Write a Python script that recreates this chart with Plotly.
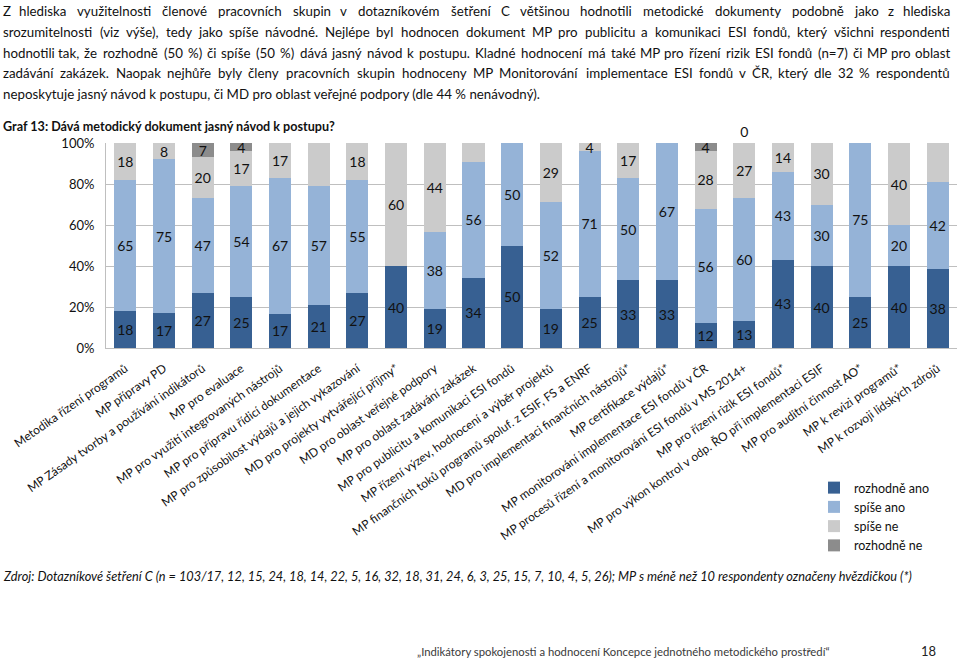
import unicodedata
import plotly.graph_objects as go

categories = [
    "Metodika řízení programů",
    "MP přípravy PD",
    "MP Zásady tvorby a používání indikátorů",
    "MP pro evaluace",
    "MP pro využití integrovaných nástrojů",
    "MP pro přípravu řídicí dokumentace",
    "MP pro způsobilost výdajů a jejich vykazování",
    "MD pro projekty vytvářející příjmy*",
    "MD pro oblast veřejné podpory",
    "MP pro oblast zadávání zakázek",
    "MP pro publicitu a komunikaci ESI fondů",
    "MP řízení výzev, hodnocení a výběr projektů",
    "MP finančních toků programů spoluf. z ESIF, FS a ENRF",
    "MD pro implementaci finančních nástrojů*",
    "MP certifikace výdajů*",
    "MP monitorování implementace ESI fondů v ČR",
    "MP procesů řízení a monitorování ESI fondů v MS 2014+",
    "MP pro řízení rizik ESI fondů*",
    "MP pro výkon kontrol v odp. ŘO při implementaci ESIF",
    "MP pro auditní činnost AO*",
    "MP k revizi programů*",
    "MP k rozvoji lidských zdrojů",
]

rozhodne_ano = [18, 17, 27, 25, 17, 21, 27, 40, 19, 34, 50, 19, 25, 33, 33, 12, 13, 43, 40, 25, 40, 38]
spise_ano = [65, 75, 47, 54, 67, 57, 55, None, 38, 56, 50, 52, 71, 50, 67, 56, 60, 43, 30, 75, 20, 42]
spise_ne = [18, 8, 20, 17, 17, 21, 18, 60, 44, 9, None, 29, 4, 17, None, 28, 27, 14, 30, None, 40, 19]
rozhodne_ne = [None, None, 7, 4, None, None, None, None, None, None, None, None, None, None, None, 4, 0, None, None, None, None, None]

series_names = ["rozhodně ano", "spíše ano", "spíše ne", "rozhodně ne"]
series_colors = ["#376092", "#95B3D7", "#CBCBCB", "#8C8C8C"]
y_ticks = [0, 20, 40, 60, 80, 100]
y_ticklabels = ["0%", "20%", "40%", "60%", "80%", "100%"]

paragraph = [
    "Z hlediska využitelnosti členové pracovních skupin v dotazníkovém šetření C většinou hodnotili metodické dokumenty podobně jako z hlediska",
    "srozumitelnosti (viz výše), tedy jako spíše návodné. Nejlépe byl hodnocen dokument MP pro publicitu a komunikaci ESI fondů, který všichni respondenti",
    "hodnotili tak, že rozhodně (50 %) či spíše (50 %) dává jasný návod k postupu. Kladné hodnocení má také MP pro řízení rizik ESI fondů (n=7) či MP pro oblast",
    "zadávání zakázek. Naopak nejhůře byly členy pracovních skupin hodnoceny MP Monitorování implementace ESI fondů v ČR, který dle 32 % respondentů",
    "neposkytuje jasný návod k postupu, či MD pro oblast veřejné podpory (dle 44 % nenávodný).",
]
title_text = "Graf 13: Dává metodický dokument jasný návod k postupu?"
source_text = ("Zdroj: Dotazníkové šetření C (n = 103/17, 12, 15, 24, 18, 14, 22, 5, 16, 32, 18, 31, 24, 6, 3, 25, 15, 7, 10, 4, 5, 26); "
               "MP s méně než 10 respondenty označeny hvězdičkou (*)")
footer_text = "„Indikátory spokojenosti a hodnocení Koncepce jednotného metodického prostředí“"
page_no = "18"

FONT = "Lato"
W, H = 960, 660
PL, PR, PT, PB = 106, 957, 143, 348


def px(x):
    return (x - PL) / (PR - PL)


def py(y):
    return (PB - y) / (PB - PT)


# rough relative glyph widths (em) used only to spread words of justified lines
_GW = {
    " ": 0.25, "a": 0.49, "b": 0.55, "c": 0.46, "d": 0.55, "e": 0.52, "f": 0.32, "g": 0.5,
    "h": 0.55, "i": 0.23, "j": 0.23, "k": 0.5, "l": 0.23, "m": 0.83, "n": 0.55, "o": 0.55,
    "p": 0.55, "q": 0.55, "r": 0.37, "s": 0.42, "t": 0.34, "u": 0.55, "v": 0.5, "w": 0.76,
    "x": 0.49, "y": 0.5, "z": 0.45, "M": 0.84, "I": 0.27, "C": 0.66, "E": 0.56, "S": 0.5,
    "N": 0.72, "K": 0.63, "P": 0.58, "Z": 0.6, "R": 0.6, ",": 0.22, ".": 0.22, "(": 0.3,
    ")": 0.3, "%": 0.8, "=": 0.58,
}


def gw(s):
    tot = 0.0
    for ch in s:
        base = unicodedata.normalize("NFD", ch)[0]
        tot += _GW.get(base, 0.58 if base.isdigit() else (0.65 if base.isupper() else 0.5))
    return tot


PARA_SIZE = 13.3
PX_PER_UNIT = 557.0 / gw(paragraph[-1])
LEFT_X, RIGHT_X = 1, 952
LINE_Y0, LINE_DY = 11, 20.8

fig = go.Figure()
for name, vals, col in zip(series_names, [rozhodne_ano, spise_ano, spise_ne, rozhodne_ne], series_colors):
    texts = ["" if v is None else str(v) for v in vals]
    if name == "rozhodně ne":
        tpos = ["outside" if v == 0 else "inside" for v in vals]
    else:
        tpos = "inside"
    fig.add_trace(go.Bar(
        x=categories, y=vals, name=name,
        marker=dict(color=col, line=dict(width=0)),
        text=texts, texttemplate="%{text}", textposition=tpos, textangle=0,
        insidetextanchor="middle", constraintext="none",
        textfont=dict(family=FONT, size=14, color="#111"),
        insidetextfont=dict(family=FONT, size=14, color="#111"),
        outsidetextfont=dict(family=FONT, size=14, color="#111"),
        cliponaxis=False, hoverinfo="skip",
    ))

annotations = []
for i, line in enumerate(paragraph):
    yl = LINE_Y0 + i * LINE_DY
    if i == len(paragraph) - 1:
        annotations.append(dict(
            text=line, x=px(LEFT_X), y=py(yl), xref="paper", yref="paper",
            xanchor="left", yanchor="middle", showarrow=False,
            font=dict(family=FONT, size=PARA_SIZE, color="#111")))
        continue
    words = line.split(" ")
    widths = [gw(w) * PX_PER_UNIT for w in words]
    gap = (RIGHT_X - LEFT_X - sum(widths)) / (len(words) - 1)
    xcur = LEFT_X
    for j, (wd, wpx) in enumerate(zip(words, widths)):
        if j == 0:
            xa, xv = "left", LEFT_X
        elif j == len(words) - 1:
            xa, xv = "right", RIGHT_X
        else:
            xa, xv = "center", xcur + wpx / 2
        annotations.append(dict(
            text=wd, x=px(xv), y=py(yl), xref="paper", yref="paper",
            xanchor=xa, yanchor="middle", showarrow=False,
            font=dict(family=FONT, size=PARA_SIZE, color="#111")))
        xcur += wpx + gap

annotations.append(dict(
    text="<b>" + title_text + "</b>", x=px(1), y=py(127), xref="paper", yref="paper",
    xanchor="left", yanchor="middle", showarrow=False,
    font=dict(family=FONT, size=12.6, color="#111")))
annotations.append(dict(
    text="<i>" + source_text + "</i>", x=px(1), y=py(576), xref="paper", yref="paper",
    xanchor="left", yanchor="middle", showarrow=False,
    font=dict(family=FONT, size=12.75, color="#111")))
annotations.append(dict(
    text=footer_text, x=px(415), y=py(651), xref="paper", yref="paper",
    xanchor="left", yanchor="middle", showarrow=False,
    font=dict(family=FONT, size=11.3, color="#3a3a3a")))
annotations.append(dict(
    text=page_no, x=px(938), y=py(651), xref="paper", yref="paper",
    xanchor="right", yanchor="middle", showarrow=False,
    font=dict(family=FONT, size=13, color="#222")))

fig.update_layout(
    width=W, height=H,
    margin=dict(l=PL, r=W - PR, t=PT, b=H - PB, pad=0, autoexpand=False),
    paper_bgcolor="white", plot_bgcolor="white",
    barmode="stack", barnorm="percent", bargap=0.43,
    font=dict(family=FONT, size=13, color="#111"),
    showlegend=True,
    legend=dict(
        x=814 / W, y=1 - 473 / H, xref="container", yref="container",
        xanchor="left", yanchor="top", traceorder="normal",
        font=dict(family=FONT, size=12.5, color="#111"),
        bgcolor="rgba(0,0,0,0)", itemclick=False, tracegroupgap=0),
    annotations=annotations,
)
fig.update_xaxes(
    type="category", tickangle=-35, showgrid=False,
    showline=True, linecolor="#BFBFBF", linewidth=1,
    tickfont=dict(family=FONT, size=12, color="#111"),
    ticks="", ticklabelstandoff=8, automargin=False,
)
fig.update_yaxes(
    range=[0, 100], tickmode="array", tickvals=y_ticks, ticktext=y_ticklabels,
    showgrid=True, gridcolor="#BFBFBF", gridwidth=1,
    showline=True, linecolor="#BFBFBF", linewidth=1,
    zeroline=False, ticks="", ticklabelstandoff=8,
    tickfont=dict(family=FONT, size=13, color="#111"),
    automargin=False,
)

fig.write_html("out.html", config={"displayModeBar": False},
               post_script="document.body.style.margin='0px';")
